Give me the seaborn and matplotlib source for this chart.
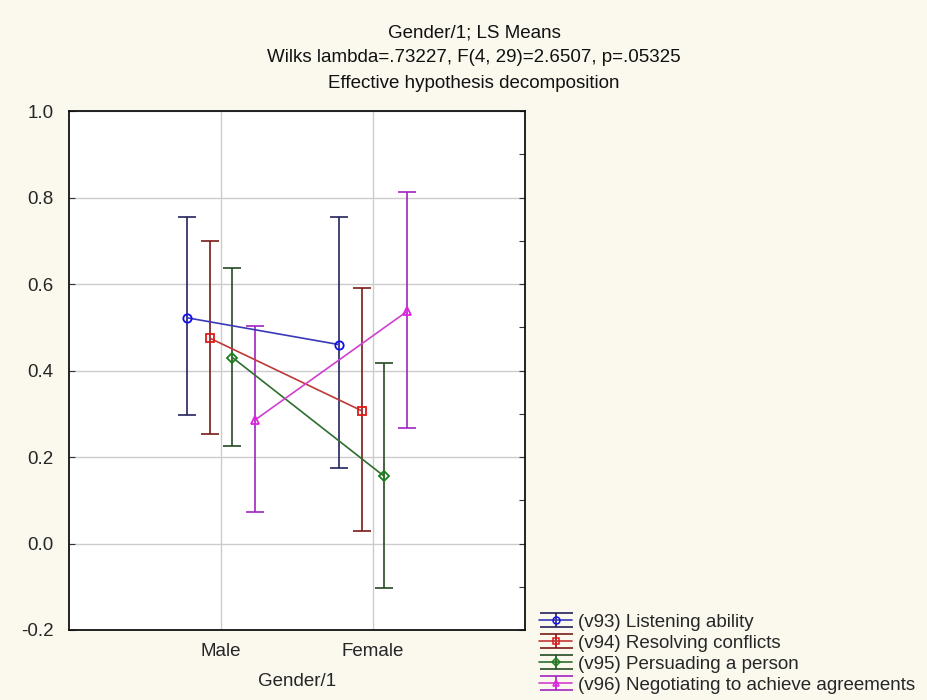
import numpy as np
import pandas as pd
import matplotlib
matplotlib.use("Agg")
import matplotlib.pyplot as plt
from matplotlib.lines import Line2D
from matplotlib.legend_handler import HandlerTuple, HandlerErrorbar
from matplotlib.container import ErrorbarContainer
from matplotlib.ticker import MultipleLocator
import seaborn as sns

# ---- data ----
categories = ["Male", "Female"]
series = ["(v93) Listening ability", "(v94) Resolving conflicts",
          "(v95) Persuading a person", "(v96) Negotiating to achieve agreements"]
means = {
    series[0]: [0.522, 0.460],
    series[1]: [0.475, 0.307],
    series[2]: [0.430, 0.155],
    series[3]: [0.286, 0.537],
}
lower = {
    series[0]: [0.296, 0.175],
    series[1]: [0.254, 0.029],
    series[2]: [0.226, -0.104],
    series[3]: [0.072, 0.268],
}
upper = {
    series[0]: [0.755, 0.755],
    series[1]: [0.700, 0.591],
    series[2]: [0.636, 0.417],
    series[3]: [0.503, 0.813],
}
title_lines = ["Gender/1; LS Means",
               "Wilks lambda=.73227, F(4, 29)=2.6507, p=.05325",
               "Effective hypothesis decomposition"]

# ---- styles ----
offsets = [-0.225, -0.075, 0.075, 0.225]
line_colors = ["#3a3ab8", "#c03838", "#2f6e2f", "#d040d0"]
marker_colors = ["#1010ee", "#e01818", "#178017", "#e020e0"]
bar_colors = ["#22225e", "#7c1a1a", "#244a24", "#a024c0"]
markers = ["o", "s", "D", "^"]
msizes = [6, 6, 5, 6]
FS = 13.5

sns.set_theme(style="white")
plt.rcParams["font.family"] = ["Liberation Sans", "DejaVu Sans"]

bg = "#fbf8ee"
fig = plt.figure(figsize=(9.28, 7.0), dpi=100, facecolor=bg)
ax = fig.add_axes([0.0744, 0.1, 0.4914, 0.7414])
ax.set_facecolor("white")

rows = []
for i, s in enumerate(series):
    for j, c in enumerate(categories):
        rows.append({"series": s, "x": j + offsets[i], "mean": means[s][j],
                     "lo": lower[s][j], "hi": upper[s][j]})
df = pd.DataFrame(rows)

handles = []
for i, s in enumerate(series):
    d = df[df["series"] == s]
    eb = ax.errorbar(d["x"], d["mean"],
                     yerr=[d["mean"] - d["lo"], d["hi"] - d["mean"]],
                     fmt="none", ecolor=bar_colors[i], elinewidth=1.2,
                     capsize=6.5, capthick=1.2, zorder=2)
    sns.lineplot(data=d, x="x", y="mean", ax=ax, color=line_colors[i],
                 linewidth=1.2, marker=markers[i], markersize=msizes[i],
                 markerfacecolor="none", markeredgecolor=marker_colors[i],
                 markeredgewidth=1.3, legend=False, zorder=3,
                 estimator=None, sort=False)
    ln = Line2D([], [], color=line_colors[i], linewidth=1.2, marker=markers[i],
                markersize=msizes[i] - 1, markerfacecolor="none",
                markeredgecolor=marker_colors[i], markeredgewidth=1.1)
    handles.append((eb, ln))


class WideCapHandler(HandlerErrorbar):
    def create_artists(self, legend, orig_handle, xdescent, ydescent, width,
                       height, fontsize, trans):
        arts = super().create_artists(legend, orig_handle, xdescent, ydescent,
                                      width, height, fontsize, trans)
        for a in arts:
            if isinstance(a, Line2D) and a.get_marker() == "_":
                a.set_markersize(width)
        return arts


ax.set_xlim(-1, 2)
ax.set_ylim(-0.2, 1.0)
ax.set_xticks(range(len(categories)))
ax.set_xticklabels(categories, fontsize=FS)
yt = np.arange(-0.2, 1.01, 0.2)
ax.set_yticks(yt)
ax.set_yticklabels([f"{v:.1f}" for v in yt], fontsize=FS)
ax.set_xlabel("Gender/1", fontsize=FS, labelpad=10)
ax.set_ylabel("")
ax.grid(True, color="#cccccc", linewidth=1.0)
ax.set_axisbelow(True)
ax.yaxis.set_minor_locator(MultipleLocator(0.1))
ax.tick_params(axis="y", which="both", left=True, right=True, direction="in",
               length=4, width=0.8, color="#333333", labelsize=FS, pad=11)
ax.tick_params(axis="y", which="minor", left=False)
ax.tick_params(axis="x", which="both", bottom=False, labelsize=FS, pad=3)
for sp in ax.spines.values():
    sp.set_color("#111111")
    sp.set_linewidth(1.3)

for k, t in enumerate(title_lines):
    fig.text(0.511, 1 - (33 + 25 * k) / 700, t, ha="center", va="center",
             fontsize=FS, color="#111111")

fig.legend(handles, series,
           handler_map={tuple: HandlerTuple(ndivide=1, pad=0),
                        ErrorbarContainer: WideCapHandler(yerr_size=0.38)},
           loc="lower left", bbox_to_anchor=(0.581, 0.008), frameon=False,
           fontsize=FS, handlelength=1.76, handletextpad=0.32,
           labelspacing=0.15, borderaxespad=0.0, borderpad=0.0,
           handleheight=0.9)

fig.savefig("out.png", dpi=100, facecolor=bg)
